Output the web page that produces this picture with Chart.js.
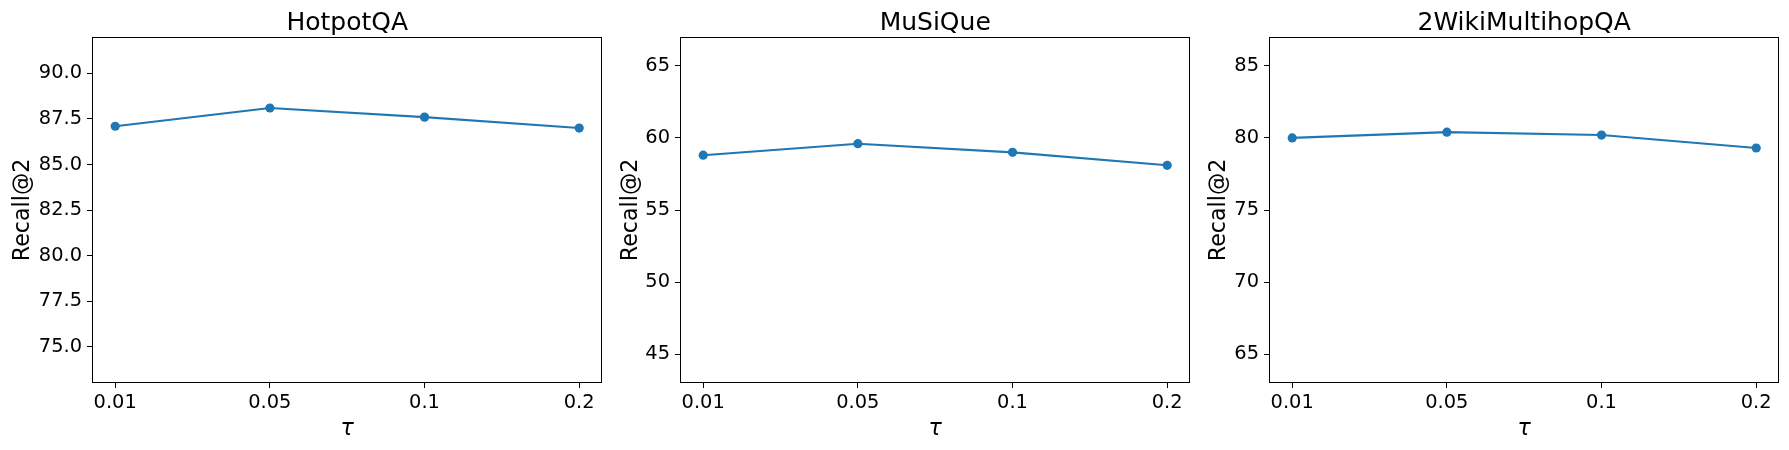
<!DOCTYPE html>
<html>
<head>
<meta charset="utf-8">
<script src="https://cdn.jsdelivr.net/npm/chart.js@4/dist/chart.umd.min.js"></script>
<style>
  html, body { margin: 0; padding: 0; background: #fff; }
  #fig { position: relative; width: 1789px; height: 450px; overflow: hidden; }
  .panel { position: absolute; top: 0; height: 450px; }
</style>
</head>
<body>
<div id="fig">
  <div class="panel" id="p0"><canvas id="c0"></canvas></div>
  <div class="panel" id="p1"><canvas id="c1"></canvas></div>
  <div class="panel" id="p2"><canvas id="c2"></canvas></div>
</div>
<script>
// data
const tauLabels = ["0.01", "0.05", "0.1", "0.2"];

const hotpotRecall = [87.1, 88.1, 87.6, 87.0];
const musiqueRecall = [58.8, 59.6, 59.0, 58.1];
const wikiRecall = [80.0, 80.4, 80.2, 79.3];

const hotpotTicks = [75, 77.5, 80, 82.5, 85, 87.5, 90];
const musiqueTicks = [45, 50, 55, 60, 65];
const wikiTicks = [65, 70, 75, 80, 85];

const hotpotRange = [73, 92];
const musiqueRange = [43, 67];
const wikiRange = [63, 87];

const panels = [
  { title: "HotpotQA", values: hotpotRecall, ticks: hotpotTicks, range: hotpotRange, digits: 1, plotLeft: 92, yTitlePad: 10 },
  { title: "MuSiQue", values: musiqueRecall, ticks: musiqueTicks, range: musiqueRange, digits: 0, plotLeft: 680, yTitlePad: 30 },
  { title: "2WikiMultihopQA", values: wikiRecall, ticks: wikiTicks, range: wikiRange, digits: 0, plotLeft: 1269, yTitlePad: 29 }
];

const FONT = "'DejaVu Sans', sans-serif";
const BLUE = "#1f77b4";
const PLOT_W = 511;
const YAXIS_W = 92;
const PAD_R = 4;

// frame around the axes and the panel title
const framePlugin = {
  id: "frame",
  afterDraw(chart, args, opts) {
    const a = chart.chartArea;
    const ctx = chart.ctx;
    ctx.save();
    ctx.strokeStyle = "#000";
    ctx.lineWidth = 1;
    ctx.strokeRect(Math.round(a.left) + 0.5, Math.round(a.top) + 0.5,
      Math.round(a.right - a.left) - 1, Math.round(a.bottom - a.top) - 1);
    ctx.fillStyle = "#000";
    ctx.font = "25px " + FONT;
    ctx.textAlign = "center";
    ctx.textBaseline = "alphabetic";
    ctx.fillText(opts.text, (a.left + a.right) / 2, 30);
    ctx.restore();
  }
};

panels.forEach((p, i) => {
  const holder = document.getElementById("p" + i);
  const w = YAXIS_W + PLOT_W + PAD_R;
  holder.style.left = (p.plotLeft - YAXIS_W) + "px";
  holder.style.width = w + "px";

  new Chart(document.getElementById("c" + i), {
    type: "line",
    data: {
      datasets: [{
        data: p.values.map((v, k) => ({ x: k, y: v })),
        borderColor: BLUE,
        backgroundColor: BLUE,
        borderWidth: 2.1,
        pointRadius: 4.6,
        pointHoverRadius: 4.6,
        pointBorderWidth: 0,
        tension: 0
      }]
    },
    options: {
      responsive: true,
      maintainAspectRatio: false,
      animation: false,
      events: [],
      layout: { padding: { top: 37, left: 0, right: PAD_R, bottom: 0 } },
      plugins: {
        legend: { display: false },
        tooltip: { enabled: false },
        title: { display: false },
        frame: { text: p.title }
      },
      scales: {
        x: {
          type: "linear",
          min: -0.15,
          max: 3.15,
          afterBuildTicks: (s) => { s.ticks = tauLabels.map((t, k) => ({ value: k })); },
          afterFit: (s) => { s.height = 67; },
          ticks: {
            callback: (v) => tauLabels[v],
            color: "#000",
            font: { family: FONT, size: 19.4 },
            padding: 3,
            maxRotation: 0,
            autoSkip: false
          },
          grid: { drawOnChartArea: false, drawTicks: true, tickLength: 5, color: "#000", lineWidth: 1 },
          border: { display: false },
          title: {
            display: true,
            text: "τ",
            color: "#000",
            font: { family: FONT, size: 22.2, style: "italic" },
            padding: { top: 0, bottom: 7.5 }
          }
        },
        y: {
          min: p.range[0],
          max: p.range[1],
          afterBuildTicks: (s) => { s.ticks = p.ticks.map((v) => ({ value: v })); },
          afterFit: (s) => { s.width = YAXIS_W; },
          ticks: {
            callback: (v) => Number(v).toFixed(p.digits),
            color: "#000",
            font: { family: FONT, size: 19.4 },
            padding: 5
          },
          grid: { drawOnChartArea: false, drawTicks: true, tickLength: 5, color: "#000", lineWidth: 1 },
          border: { display: false },
          title: {
            display: true,
            text: "Recall@2",
            color: "#000",
            font: { family: FONT, size: 22.2 },
            padding: { top: p.yTitlePad, bottom: 0 }
          }
        }
      }
    },
    plugins: [framePlugin]
  });
});
</script>
</body>
</html>
